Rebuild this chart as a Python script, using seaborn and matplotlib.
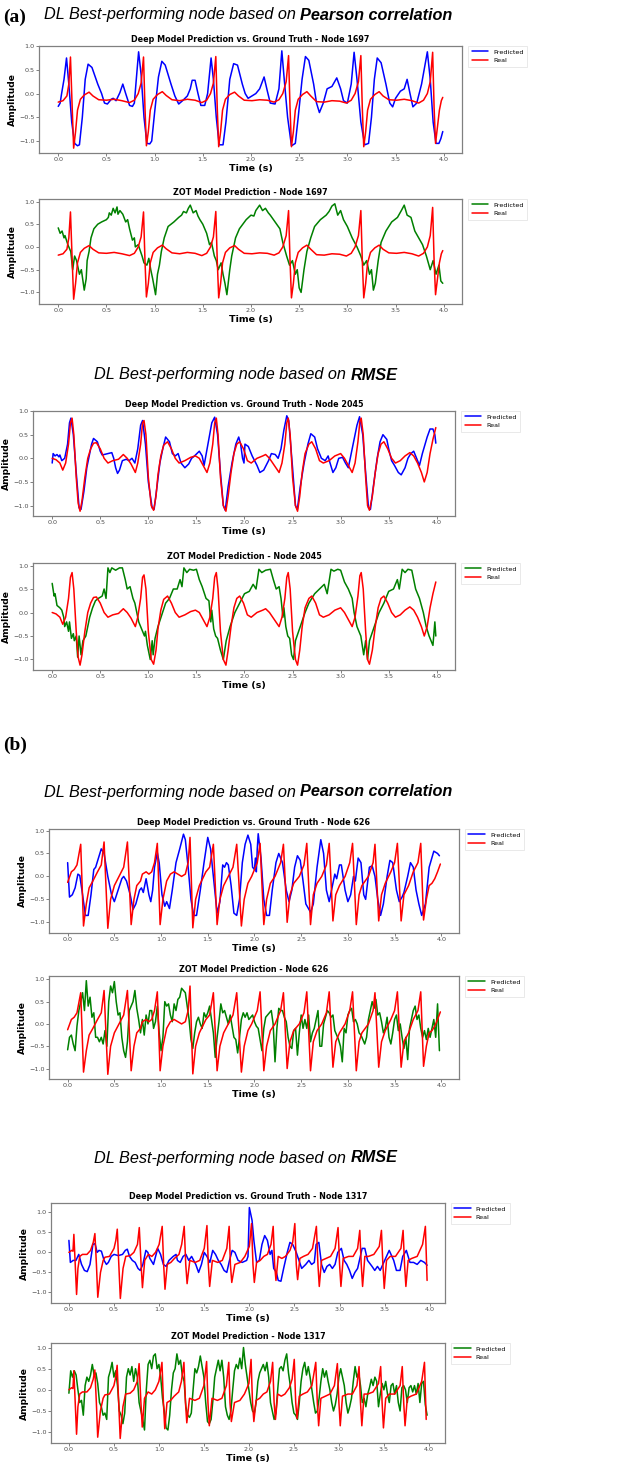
import matplotlib
matplotlib.use("Agg")
import matplotlib.pyplot as plt
import numpy as np
import seaborn as sns

# ---- data: (time [s], amplitude) samples ----
node1697_real = [(0.00, -0.18), (0.05, -0.15), (0.09, -0.05), (0.11, 0.2), (0.127, 0.77), (0.145, -0.3), (0.16, -1.15), (0.18, -0.8), (0.20, -0.35), (0.23, -0.12), (0.27, -0.03), (0.32, 0.03), (0.36, -0.05), (0.42, -0.13), (0.50, -0.14), (0.58, -0.12), (0.66, -0.15), (0.74, -0.19), (0.79, -0.14), (0.83, 0.0), (0.86, 0.22),
                 (0.885, 0.77), (0.90, -0.3), (0.915, -1.1), (0.935, -0.8), (0.955, -0.35), (0.985, -0.12), (1.03, -0.02), (1.08, 0.04), (1.12, -0.04), (1.18, -0.13), (1.26, -0.15), (1.34, -0.12), (1.42, -0.14), (1.49, -0.19), (1.54, -0.14), (1.58, 0.0), (1.61, 0.22),
                 (1.635, 0.78), (1.65, -0.3), (1.665, -1.12), (1.685, -0.8), (1.705, -0.35), (1.735, -0.12), (1.78, -0.02), (1.83, 0.03), (1.87, -0.05), (1.93, -0.14), (2.01, -0.15), (2.09, -0.13), (2.17, -0.14), (2.24, -0.18), (2.29, -0.13), (2.33, 0.0), (2.365, 0.25),
                 (2.39, 0.8), (2.405, -0.3), (2.42, -1.12), (2.44, -0.8), (2.46, -0.35), (2.49, -0.12), (2.535, -0.02), (2.58, 0.04), (2.62, -0.05), (2.68, -0.17), (2.76, -0.18), (2.84, -0.15), (2.92, -0.16), (2.99, -0.2), (3.04, -0.14), (3.08, 0.0), (3.115, 0.25),
                 (3.14, 0.8), (3.155, -0.3), (3.17, -1.12), (3.19, -0.8), (3.21, -0.35), (3.24, -0.12), (3.285, -0.02), (3.33, 0.04), (3.37, -0.05), (3.43, -0.13), (3.51, -0.14), (3.59, -0.12), (3.67, -0.15), (3.74, -0.2), (3.79, -0.14), (3.83, 0.0), (3.86, 0.25),
                 (3.885, 0.87), (3.90, -0.3), (3.915, -1.05), (3.935, -0.7), (3.955, -0.35), (3.975, -0.15), (3.99, -0.08)]

node1697_deep = [(0.00, -0.27), (0.02, -0.2), (0.035, 0.0), (0.06, 0.3), (0.086, 0.75), (0.11, 0.2), (0.14, -0.6), (0.17, -1.05), (0.20, -1.1), (0.22, -1.08), (0.25, -0.5), (0.28, 0.3), (0.31, 0.62), (0.35, 0.55), (0.41, 0.2), (0.45, 0.0), (0.48, -0.2), (0.51, -0.22), (0.55, -0.12), (0.57, -0.1), (0.60, -0.15), (0.64, 0.02), (0.67, 0.2), (0.70, 0.0), (0.74, -0.25), (0.77, -0.27), (0.79, -0.2), (0.81, 0.3), (0.834, 0.88), (0.86, 0.4), (0.89, -0.5), (0.92, -1.05), (0.95, -1.06), (0.97, -1.0), (1.00, -0.4), (1.04, 0.35), (1.075, 0.68), (1.11, 0.6), (1.17, 0.2), (1.21, -0.05), (1.25, -0.22), (1.29, -0.15), (1.34, -0.05), (1.37, 0.1), (1.39, 0.28), (1.42, 0.28), (1.45, 0.0), (1.48, -0.25), (1.52, -0.25), (1.55, 0.0), (1.586, 0.75), (1.61, 0.3), (1.64, -0.5), (1.67, -1.08), (1.71, -1.08), (1.74, -0.6), (1.78, 0.3), (1.82, 0.63), (1.86, 0.6), (1.91, 0.2), (1.94, 0.0), (1.97, -0.1), (2.01, -0.05), (2.05, 0.0), (2.09, 0.1), (2.136, 0.35), (2.17, 0.05), (2.20, -0.2), (2.25, -0.22), (2.29, 0.1), (2.32, 0.9), (2.345, 0.3), (2.38, -0.5), (2.42, -1.1), (2.46, -1.05), (2.49, -0.5), (2.53, 0.3), (2.565, 0.78), (2.60, 0.7), (2.65, 0.2), (2.68, -0.2), (2.71, -0.4), (2.75, -0.2), (2.79, 0.1), (2.84, 0.15), (2.89, 0.33), (2.93, 0.1), (2.96, -0.15), (3.00, -0.2), (3.04, 0.2), (3.07, 0.87), (3.10, 0.3), (3.14, -0.6), (3.18, -1.08), (3.22, -1.05), (3.25, -0.5), (3.28, 0.3), (3.31, 0.75), (3.35, 0.65), (3.40, 0.2), (3.44, -0.2), (3.47, -0.28), (3.50, -0.1), (3.55, 0.05), (3.59, 0.1), (3.62, 0.3), (3.65, 0.0), (3.68, -0.28), (3.72, -0.2), (3.77, 0.2), (3.83, 0.88), (3.86, 0.3), (3.89, -0.6), (3.92, -1.05), (3.95, -1.05), (3.97, -0.95), (3.99, -0.8)]

node1697_zot = [(0.00, 0.42), (0.02, 0.3), (0.04, 0.35), (0.06, 0.2), (0.07, 0.25), (0.10, 0.05), (0.13, -0.1), (0.15, -0.5), (0.17, -0.2), (0.19, -0.3), (0.22, -0.6), (0.24, -0.5), (0.26, -0.8), (0.27, -0.95), (0.29, -0.7), (0.30, -0.3), (0.32, -0.1), (0.34, 0.2), (0.37, 0.4), (0.41, 0.5), (0.45, 0.55), (0.50, 0.6), (0.52, 0.65), (0.53, 0.75), (0.55, 0.7), (0.57, 0.85), (0.59, 0.75), (0.61, 0.88), (0.62, 0.72), (0.64, 0.8), (0.67, 0.72), (0.70, 0.55), (0.72, 0.6), (0.74, 0.4), (0.77, 0.15), (0.79, 0.2), (0.80, 0.0), (0.83, 0.05), (0.87, -0.2), (0.89, -0.35), (0.92, -0.4), (0.94, -0.25), (0.96, -0.5), (0.98, -0.7), (1.01, -1.05), (1.03, -0.6), (1.05, -0.4), (1.07, -0.1), (1.10, 0.2), (1.14, 0.45), (1.20, 0.55), (1.25, 0.65), (1.28, 0.7), (1.30, 0.78), (1.33, 0.75), (1.35, 0.85), (1.37, 0.92), (1.40, 0.75), (1.43, 0.8), (1.45, 0.68), (1.47, 0.6), (1.50, 0.5), (1.54, 0.3), (1.57, 0.05), (1.59, 0.1), (1.62, -0.2), (1.64, -0.3), (1.66, -0.5), (1.69, -0.35), (1.71, -0.6), (1.73, -0.8), (1.75, -1.05), (1.78, -0.5), (1.80, -0.2), (1.84, 0.2), (1.88, 0.4), (1.95, 0.6), (2.00, 0.7), (2.03, 0.68), (2.05, 0.8), (2.09, 0.92), (2.12, 0.8), (2.15, 0.85), (2.18, 0.75), (2.20, 0.7), (2.25, 0.55), (2.30, 0.4), (2.33, 0.1), (2.37, -0.2), (2.40, -0.4), (2.43, -0.3), (2.46, -0.6), (2.48, -0.5), (2.50, -0.9), (2.52, -1.0), (2.55, -0.5), (2.58, -0.1), (2.62, 0.2), (2.66, 0.45), (2.72, 0.6), (2.78, 0.7), (2.81, 0.78), (2.84, 0.9), (2.87, 0.95), (2.90, 0.7), (2.93, 0.8), (2.96, 0.6), (3.00, 0.45), (3.05, 0.2), (3.10, 0.0), (3.14, -0.2), (3.17, -0.4), (3.20, -0.3), (3.23, -0.6), (3.25, -0.5), (3.27, -0.95), (3.29, -0.8), (3.32, -0.3), (3.35, 0.1), (3.40, 0.35), (3.46, 0.55), (3.52, 0.65), (3.56, 0.8), (3.59, 0.92), (3.62, 0.7), (3.66, 0.65), (3.70, 0.35), (3.74, 0.2), (3.78, 0.05), (3.82, -0.2), (3.86, -0.5), (3.89, -0.3), (3.92, -0.6), (3.95, -0.4), (3.97, -0.75), (3.99, -0.8)]

node2045_real = [(0.00, 0.0), (0.04, -0.03), (0.08, -0.1), (0.11, -0.25), (0.14, -0.1), (0.17, 0.3), (0.19, 0.75), (0.207, 0.85), (0.225, 0.5), (0.25, -0.4), (0.27, -0.95), (0.29, -1.12), (0.31, -0.9), (0.34, -0.4), (0.37, 0.0), (0.40, 0.2), (0.43, 0.32), (0.46, 0.33), (0.50, 0.2), (0.54, 0.0), (0.58, -0.1), (0.63, -0.05), (0.69, -0.02), (0.74, 0.08), (0.78, 0.0), (0.82, -0.12), (0.865, -0.3), (0.89, -0.1), (0.92, 0.3), (0.94, 0.75), (0.955, 0.8), (0.975, 0.5), (1.00, -0.4), (1.03, -1.0), (1.055, -1.1), (1.08, -0.8), (1.10, -0.35), (1.13, 0.05), (1.16, 0.28), (1.20, 0.35), (1.24, 0.2), (1.28, 0.0), (1.32, -0.1), (1.38, -0.05), (1.44, 0.02), (1.49, 0.05), (1.53, 0.0), (1.57, -0.15), (1.61, -0.3), (1.64, -0.1), (1.67, 0.3), (1.69, 0.75), (1.707, 0.85), (1.725, 0.5), (1.75, -0.4), (1.78, -1.0), (1.807, -1.12), (1.83, -0.8), (1.86, -0.3), (1.89, 0.1), (1.92, 0.3), (1.95, 0.35), (1.99, 0.2), (2.03, -0.05), (2.07, -0.1), (2.13, 0.0), (2.19, 0.05), (2.22, 0.08), (2.26, 0.0), (2.30, -0.12), (2.36, -0.3), (2.39, -0.1), (2.42, 0.3), (2.44, 0.75), (2.455, 0.85), (2.475, 0.5), (2.50, -0.4), (2.53, -1.0), (2.552, -1.12), (2.575, -0.8), (2.60, -0.3), (2.63, 0.1), (2.67, 0.3), (2.70, 0.35), (2.74, 0.2), (2.78, -0.05), (2.82, -0.1), (2.88, -0.05), (2.94, 0.05), (3.00, 0.1), (3.04, 0.0), (3.08, -0.15), (3.12, -0.3), (3.15, -0.1), (3.18, 0.35), (3.20, 0.78), (3.214, 0.85), (3.235, 0.5), (3.26, -0.4), (3.28, -1.0), (3.30, -1.1), (3.33, -0.8), (3.36, -0.3), (3.39, 0.1), (3.42, 0.3), (3.45, 0.35), (3.49, 0.2), (3.53, 0.0), (3.57, -0.1), (3.62, -0.05), (3.67, 0.05), (3.72, 0.12), (3.76, 0.05), (3.80, -0.1), (3.84, -0.3), (3.87, -0.5), (3.90, -0.3), (3.93, 0.1), (3.96, 0.4), (3.99, 0.65)]

node2045_deep = [(0.00, -0.1), (0.01, 0.1), (0.03, 0.05), (0.05, 0.08), (0.07, 0.03), (0.08, 0.07), (0.10, -0.05), (0.13, 0.0), (0.16, 0.3), (0.18, 0.75), (0.195, 0.85), (0.22, 0.5), (0.25, -0.3), (0.28, -1.05), (0.30, -1.08), (0.33, -0.7), (0.36, -0.2), (0.39, 0.1), (0.41, 0.3), (0.43, 0.42), (0.47, 0.35), (0.50, 0.15), (0.52, 0.07), (0.58, 0.1), (0.62, 0.12), (0.64, 0.0), (0.66, -0.2), (0.68, -0.32), (0.70, -0.25), (0.73, -0.05), (0.77, -0.02), (0.80, -0.05), (0.83, 0.0), (0.86, -0.1), (0.89, 0.2), (0.92, 0.7), (0.94, 0.8), (0.97, 0.3), (1.00, -0.5), (1.04, -1.05), (1.06, -1.08), (1.09, -0.6), (1.12, -0.1), (1.15, 0.2), (1.18, 0.45), (1.22, 0.35), (1.25, 0.1), (1.28, 0.05), (1.31, 0.1), (1.34, -0.1), (1.38, -0.2), (1.42, -0.12), (1.45, 0.0), (1.48, 0.05), (1.53, 0.15), (1.56, 0.05), (1.58, -0.15), (1.62, 0.3), (1.66, 0.75), (1.69, 0.87), (1.72, 0.5), (1.75, -0.3), (1.78, -1.0), (1.80, -1.1), (1.83, -0.6), (1.87, -0.1), (1.91, 0.3), (1.94, 0.45), (1.96, 0.3), (1.98, 0.0), (1.995, -0.1), (2.005, 0.3), (2.04, 0.25), (2.08, 0.05), (2.13, -0.15), (2.16, -0.3), (2.20, -0.25), (2.25, -0.05), (2.28, 0.1), (2.32, 0.08), (2.35, 0.0), (2.38, 0.2), (2.41, 0.6), (2.44, 0.9), (2.46, 0.8), (2.50, -0.2), (2.53, -1.0), (2.55, -1.08), (2.58, -0.6), (2.62, -0.1), (2.66, 0.3), (2.69, 0.52), (2.73, 0.45), (2.76, 0.2), (2.80, 0.0), (2.84, -0.05), (2.87, 0.05), (2.89, -0.1), (2.92, -0.3), (2.95, -0.2), (2.98, 0.0), (3.02, 0.02), (3.05, -0.1), (3.08, -0.2), (3.13, 0.3), (3.17, 0.7), (3.197, 0.88), (3.23, 0.5), (3.26, -0.3), (3.29, -1.05), (3.31, -1.08), (3.34, -0.6), (3.38, 0.0), (3.41, 0.35), (3.44, 0.5), (3.48, 0.4), (3.50, 0.2), (3.53, -0.05), (3.56, -0.15), (3.60, -0.3), (3.63, -0.35), (3.67, -0.2), (3.70, 0.0), (3.73, 0.1), (3.76, 0.15), (3.79, 0.0), (3.82, -0.15), (3.85, 0.1), (3.90, 0.45), (3.93, 0.62), (3.96, 0.62), (3.98, 0.5), (3.99, 0.32)]

node2045_zot = [(0.00, 0.62), (0.02, 0.35), (0.03, 0.4), (0.05, 0.15), (0.08, 0.1), (0.10, 0.05), (0.12, -0.1), (0.13, -0.3), (0.15, -0.2), (0.17, -0.4), (0.18, -0.2), (0.20, -0.55), (0.22, -0.45), (0.23, -0.6), (0.25, -0.5), (0.265, -0.95), (0.28, -0.5), (0.30, -0.9), (0.32, -0.6), (0.35, -0.5), (0.37, -0.3), (0.39, -0.1), (0.42, 0.1), (0.45, 0.25), (0.48, 0.3), (0.52, 0.35), (0.54, 0.5), (0.56, 0.3), (0.58, 0.95), (0.60, 0.85), (0.62, 0.95), (0.66, 0.9), (0.70, 0.95), (0.73, 0.95), (0.76, 0.7), (0.78, 0.5), (0.81, 0.55), (0.84, 0.3), (0.86, 0.2), (0.88, 0.0), (0.90, -0.2), (0.93, -0.35), (0.96, -0.5), (0.97, -0.4), (0.99, -0.7), (1.02, -1.0), (1.04, -0.6), (1.05, -0.9), (1.07, -0.55), (1.10, -0.3), (1.14, -0.05), (1.18, 0.2), (1.22, 0.3), (1.26, 0.5), (1.30, 0.5), (1.33, 0.7), (1.35, 0.55), (1.37, 0.95), (1.40, 0.85), (1.43, 0.92), (1.47, 0.9), (1.50, 0.92), (1.53, 0.7), (1.56, 0.55), (1.60, 0.3), (1.63, 0.25), (1.65, -0.2), (1.66, 0.05), (1.68, -0.35), (1.70, -0.5), (1.72, -0.55), (1.75, -0.8), (1.78, -1.0), (1.81, -0.6), (1.85, -0.3), (1.90, 0.0), (1.95, 0.2), (2.00, 0.4), (2.05, 0.45), (2.09, 0.6), (2.12, 0.5), (2.15, 0.92), (2.18, 0.85), (2.22, 0.9), (2.27, 0.92), (2.30, 0.7), (2.33, 0.5), (2.36, 0.55), (2.38, 0.3), (2.40, -0.1), (2.41, 0.1), (2.43, -0.3), (2.45, -0.5), (2.47, -0.55), (2.49, -0.9), (2.51, -1.0), (2.53, -0.6), (2.58, -0.3), (2.63, 0.0), (2.67, 0.2), (2.73, 0.4), (2.78, 0.5), (2.83, 0.6), (2.86, 0.4), (2.90, 0.92), (2.93, 0.88), (2.97, 0.92), (3.00, 0.9), (3.04, 0.65), (3.08, 0.5), (3.12, 0.3), (3.14, 0.0), (3.17, -0.3), (3.19, -0.4), (3.21, -0.5), (3.24, -0.9), (3.26, -0.6), (3.28, -1.0), (3.30, -0.6), (3.35, -0.3), (3.40, 0.0), (3.45, 0.2), (3.50, 0.45), (3.55, 0.5), (3.59, 0.7), (3.61, 0.5), (3.64, 0.92), (3.67, 0.85), (3.70, 0.92), (3.74, 0.9), (3.78, 0.5), (3.82, 0.3), (3.86, 0.0), (3.89, -0.3), (3.92, -0.5), (3.94, -0.6), (3.96, -0.7), (3.98, -0.2), (3.99, -0.5)]

node626_real = [(0.00, -0.13), (0.04, 0.1), (0.07, 0.15), (0.10, 0.25), (0.14, 0.7), (0.17, -1.08), (0.20, -0.6), (0.23, -0.25), (0.27, -0.1), (0.32, 0.1), (0.36, 0.25), (0.39, 0.75), (0.43, -1.13), (0.46, -0.5), (0.50, -0.2), (0.55, 0.0), (0.60, 0.2), (0.64, 0.75), (0.68, -1.05), (0.71, -0.5), (0.74, -0.2), (0.78, -0.1), (0.80, 0.05), (0.84, 0.1), (0.87, 0.05), (0.90, 0.1), (0.93, 0.3), (0.96, 0.72), (0.99, -1.05), (1.02, -0.5), (1.06, -0.1), (1.10, 0.05), (1.14, 0.1), (1.18, 0.05), (1.22, 0.0), (1.26, 0.05), (1.29, 0.3), (1.31, 0.85), (1.34, -1.12), (1.37, -0.5), (1.41, -0.2), (1.48, 0.1), (1.52, 0.2), (1.56, 0.7), (1.60, -1.05), (1.63, -0.5), (1.67, -0.2), (1.72, 0.0), (1.77, 0.2), (1.81, 0.7), (1.86, -1.08), (1.89, -0.5), (1.93, -0.15), (1.97, 0.0), (2.03, 0.3), (2.06, 0.72), (2.10, -1.05), (2.13, -0.5), (2.17, -0.15), (2.22, 0.0), (2.28, 0.3), (2.31, 0.7), (2.35, -1.0), (2.38, -0.4), (2.42, -0.15), (2.48, 0.0), (2.53, 0.25), (2.56, 0.72), (2.60, -1.05), (2.63, -0.4), (2.67, -0.15), (2.72, 0.0), (2.77, 0.25), (2.80, 0.72), (2.84, -0.97), (2.87, -0.4), (2.91, -0.2), (2.97, 0.0), (3.02, 0.3), (3.05, 0.72), (3.09, -1.05), (3.12, -0.4), (3.15, -0.2), (3.22, 0.0), (3.27, 0.3), (3.29, 0.7), (3.33, -0.97), (3.36, -0.4), (3.40, -0.15), (3.46, 0.1), (3.50, 0.3), (3.53, 0.72), (3.57, -0.97), (3.60, -0.4), (3.65, -0.2), (3.70, 0.1), (3.75, 0.3), (3.78, 0.72), (3.81, -0.95), (3.84, -0.5), (3.87, -0.2), (3.90, -0.15), (3.93, -0.05), (3.96, 0.1), (3.99, 0.27)]

node626_deep = [(0.00, 0.3), (0.02, -0.45), (0.05, -0.4), (0.08, -0.25), (0.11, 0.05), (0.13, 0.02), (0.16, -0.4), (0.19, -0.85), (0.22, -0.85), (0.25, -0.4), (0.28, 0.15), (0.30, 0.2), (0.33, 0.4), (0.36, 0.6), (0.39, 0.5), (0.43, 0.0), (0.47, -0.4), (0.50, -0.55), (0.54, -0.3), (0.58, -0.05), (0.60, 0.0), (0.63, -0.1), (0.67, -0.4), (0.70, -0.72), (0.73, -0.6), (0.77, -0.3), (0.79, -0.25), (0.81, -0.35), (0.84, -0.05), (0.87, -0.4), (0.89, -0.55), (0.91, -0.3), (0.93, 0.2), (0.96, 0.52), (0.98, 0.3), (1.01, -0.4), (1.04, -0.65), (1.06, -0.55), (1.09, -0.7), (1.12, -0.3), (1.16, 0.3), (1.20, 0.6), (1.24, 0.92), (1.26, 0.8), (1.29, 0.2), (1.32, -0.5), (1.35, -0.85), (1.38, -0.85), (1.42, -0.3), (1.46, 0.3), (1.50, 0.85), (1.53, 0.6), (1.57, -0.2), (1.60, -0.8), (1.63, -0.55), (1.66, 0.25), (1.68, 0.2), (1.70, 0.3), (1.72, 0.25), (1.75, -0.2), (1.78, -0.8), (1.81, -0.85), (1.84, -0.5), (1.87, 0.3), (1.90, 0.7), (1.93, 0.9), (1.96, 0.7), (1.98, 0.2), (2.00, 0.15), (2.01, 0.4), (2.02, 0.1), (2.03, 0.6), (2.04, 0.93), (2.07, 0.4), (2.10, -0.5), (2.13, -0.85), (2.16, -0.85), (2.19, -0.3), (2.23, 0.3), (2.26, 0.5), (2.30, 0.3), (2.34, -0.3), (2.37, -0.55), (2.40, -0.3), (2.43, 0.2), (2.46, 0.45), (2.49, 0.35), (2.52, -0.1), (2.55, -0.6), (2.60, -0.78), (2.63, -0.6), (2.67, 0.2), (2.71, 0.8), (2.74, 0.5), (2.77, -0.3), (2.80, -0.55), (2.83, -0.25), (2.86, 0.05), (2.88, -0.05), (2.91, 0.25), (2.93, 0.25), (2.97, -0.3), (3.00, -0.55), (3.03, -0.4), (3.06, 0.0), (3.08, -0.1), (3.11, 0.4), (3.14, 0.3), (3.17, -0.4), (3.19, -0.5), (3.23, 0.2), (3.26, 0.23), (3.29, 0.0), (3.32, -0.5), (3.35, -0.85), (3.38, -0.6), (3.42, 0.0), (3.45, 0.35), (3.48, 0.3), (3.52, -0.3), (3.55, -0.55), (3.58, -0.45), (3.60, -0.35), (3.64, 0.0), (3.67, 0.3), (3.70, 0.2), (3.73, -0.3), (3.76, -0.6), (3.79, -0.85), (3.83, -0.6), (3.87, 0.2), (3.92, 0.55), (3.96, 0.5), (3.98, 0.45)]

# ZOT prediction for node 626, one value every 0.02 s
node626_zot = [-0.58, -0.3, -0.25, -0.45, -0.6, -0.05, 0.3, 0.5, 0.7, 0.3,
               0.97, 0.4, 0.6, 0.15, 0.25, -0.3, -0.3, -0.4, -0.3, -0.45,
               -0.15, -0.5, 0.5, 0.85, 0.7, 0.95, 0.5, 0.2, 0.25, -0.3,
               -0.6, -0.75, -0.4, 0.3, 0.4, 0.5, 0.75, 0.35, 0.1, -0.2,
               0.1, -0.25, 0.2, 0.0, 0.3, 0.3, -0.1, 0.05, 0.4, -0.2,
               -0.6, -0.3, 0.5, 0.4, 0.45, 0.2, 0.05, 0.45, 0.3, 0.55,
               0.6, 0.8, 0.75, 0.7, 0.4, 0.1, -0.35, -0.55, -0.2, 0.05,
               0.15, 0.0, -0.1, 0.25, 0.15, 0.25, 0.4, 0.1, -0.2, -0.75,
               -0.3, 0.05, 0.45, 0.25, 0.3, 0.15, 0.0, 0.2, -0.05, -0.3,
               -0.35, -0.65, -0.3, 0.1, 0.25, 0.15, 0.25, 0.1, 0.15, 0.2,
               0.05, -0.05, -0.1, -0.35, -0.6, -0.1, 0.15, 0.2, 0.25, 0.3,
               0.0, -0.85, -0.1, 0.35, 0.3, 0.3, 0.15, 0.05, -0.3, -0.5,
               -0.55, -0.15, -0.1, -0.7, -0.2, 0.2, -0.1, 0.1, -0.1, 0.2,
               -0.4, -0.2, -0.1, 0.1, 0.3, -0.5, -0.5, 0.0, 0.15, 0.3,
               0.25, 0.15, 0.2, -0.15, -0.25, -0.35, -0.5, -0.85, -0.1, -0.2,
               0.2, 0.3, 0.35, 0.05, 0.1, 0.0, -0.2, -0.25, -0.35, -0.45,
               -0.3, 0.1, 0.3, 0.5, 0.35, 0.55, 0.2, 0.25, 0.05, -0.2,
               -0.1, 0.15, -0.3, -0.45, -0.2, 0.1, 0.2, -0.15, 0.0, -0.3,
               -0.55, -0.3, -0.8, -0.1, 0.1, 0.3, 0.4, 0.1, 0.2, -0.1,
               -0.3, -0.15, -0.35, -0.1, -0.3, -0.1, 0.1, -0.3, 0.45, -0.6]

node1317_real = [(0.00, 0.0), (0.03, 0.05), (0.045, 0.03), (0.055, 0.45), (0.07, -0.3), (0.085, -1.05), (0.10, -0.4), (0.12, -0.1), (0.15, -0.05), (0.20, -0.05), (0.24, 0.05), (0.27, 0.25), (0.288, 0.47), (0.305, -0.3), (0.32, -1.12), (0.35, -0.5), (0.38, -0.2), (0.40, -0.12), (0.45, -0.1), (0.50, 0.1), (0.52, 0.3), (0.536, 0.58), (0.555, -0.4), (0.57, -1.15), (0.60, -0.4), (0.63, -0.1), (0.68, -0.08), (0.72, 0.0), (0.76, 0.2), (0.78, 0.62), (0.80, -0.3), (0.815, -0.88), (0.84, -0.2), (0.88, -0.05), (0.92, -0.1), (0.96, 0.0), (1.00, 0.2), (1.034, 0.65), (1.05, -0.3), (1.065, -0.92), (1.09, -0.3), (1.13, -0.25), (1.17, -0.15), (1.22, -0.05), (1.25, 0.2), (1.278, 0.65), (1.295, -0.3), (1.31, -0.78), (1.34, -0.2), (1.40, -0.25), (1.45, -0.2), (1.50, 0.1), (1.53, 0.67), (1.545, -0.3), (1.56, -0.85), (1.59, -0.2), (1.65, -0.25), (1.70, -0.2), (1.75, 0.1), (1.776, 0.65), (1.79, -0.3), (1.805, -0.75), (1.84, -0.3), (1.90, -0.25), (1.95, -0.1), (2.00, 0.15), (2.024, 0.72), (2.04, -0.3), (2.055, -0.75), (2.08, -0.25), (2.12, -0.2), (2.16, -0.1), (2.20, -0.05), (2.24, 0.2), (2.264, 0.65), (2.28, -0.3), (2.295, -0.7), (2.32, -0.1), (2.36, -0.15), (2.40, -0.1), (2.45, 0.05), (2.48, 0.25), (2.504, 0.72), (2.52, -0.3), (2.535, -0.68), (2.56, -0.15), (2.60, -0.1), (2.65, -0.05), (2.70, 0.1), (2.743, 0.65), (2.76, -0.3), (2.775, -0.85), (2.80, -0.2), (2.85, -0.15), (2.90, -0.1), (2.95, 0.1), (2.983, 0.62), (3.00, -0.3), (3.015, -0.85), (3.04, -0.15), (3.10, -0.1), (3.15, -0.1), (3.20, 0.1), (3.224, 0.55), (3.24, -0.3), (3.255, -0.85), (3.28, -0.1), (3.32, -0.1), (3.38, -0.05), (3.44, 0.15), (3.464, 0.55), (3.48, -0.3), (3.495, -0.9), (3.52, -0.2), (3.56, -0.1), (3.62, -0.1), (3.68, 0.1), (3.704, 0.55), (3.72, -0.3), (3.735, -0.85), (3.76, -0.2), (3.80, -0.15), (3.86, -0.1), (3.92, 0.2), (3.951, 0.65), (3.97, -0.7)]

node1317_deep = [(0.00, 0.3), (0.016, -0.25), (0.047, -0.2), (0.078, -0.2), (0.109, -0.05), (0.14, -0.3), (0.172, -0.45), (0.203, -0.48), (0.234, -0.3), (0.266, 0.2), (0.29, 0.22), (0.3125, 0.0), (0.334, 0.05), (0.36, 0.03), (0.39, -0.2), (0.416, -0.3), (0.4375, -0.25), (0.469, -0.1), (0.50, -0.05), (0.547, -0.08), (0.594, -0.05), (0.625, 0.05), (0.647, 0.08), (0.672, -0.1), (0.703, -0.2), (0.734, -0.25), (0.766, -0.4), (0.79, -0.45), (0.82, -0.3), (0.853, 0.05), (0.875, 0.0), (0.897, -0.15), (0.9375, -0.3), (0.984, 0.1), (1.016, -0.05), (1.047, -0.3), (1.078, -0.35), (1.109, -0.2), (1.156, -0.1), (1.1875, -0.05), (1.203, -0.2), (1.234, -0.25), (1.266, -0.1), (1.297, -0.05), (1.328, -0.2), (1.36, -0.1), (1.406, -0.3), (1.4375, -0.5), (1.469, -0.3), (1.50, 0.0), (1.53, -0.1), (1.5625, -0.25), (1.594, 0.05), (1.625, -0.05), (1.656, -0.2), (1.6875, -0.3), (1.72, -0.45), (1.75, -0.5), (1.78, -0.2), (1.81, 0.05), (1.84, 0.0), (1.875, -0.2), (1.92, -0.25), (1.97, -0.2), (1.985, -0.1), (2.00, 1.12), (2.03, 0.8), (2.05, 0.3), (2.08, -0.25), (2.11, -0.2), (2.14, 0.2), (2.17, 0.42), (2.20, 0.3), (2.23, -0.05), (2.25, 0.05), (2.27, -0.4), (2.30, -0.5), (2.32, -0.7), (2.35, -0.72), (2.38, -0.4), (2.42, 0.0), (2.45, 0.25), (2.48, 0.2), (2.52, 0.0), (2.55, -0.2), (2.58, -0.4), (2.625, -0.3), (2.66, -0.2), (2.69, -0.3), (2.72, -0.25), (2.74, 0.2), (2.77, 0.25), (2.80, -0.3), (2.83, -0.5), (2.86, -0.35), (2.89, -0.3), (2.92, -0.4), (2.95, -0.3), (2.98, 0.0), (3.02, 0.1), (3.05, -0.2), (3.08, -0.3), (3.11, -0.45), (3.14, -0.65), (3.17, -0.5), (3.20, -0.4), (3.25, 0.1), (3.28, 0.1), (3.31, -0.2), (3.36, -0.35), (3.39, -0.45), (3.42, -0.35), (3.45, -0.45), (3.50, -0.2), (3.55, 0.05), (3.60, -0.2), (3.63, -0.45), (3.67, -0.45), (3.70, -0.1), (3.74, 0.05), (3.78, -0.25), (3.82, -0.25), (3.86, -0.3), (3.90, -0.2), (3.94, -0.25), (3.97, -0.32)]

# ZOT prediction for node 1317, one value every 0.02 s
node1317_zot = [-0.08, 0.45, 0.3, 0.45, 0.35, 0.0, -0.3, -0.25, -0.6, 0.1,
                0.3, 0.2, 0.35, 0.6, 0.35, 0.4, 0.15, -0.3, -0.4, -0.6,
                -0.55, -0.7, 0.3, 0.45, 0.65, 0.3, 0.45, 0.1, -0.5, -0.6,
                -0.8, -0.55, 0.3, 0.5, 0.35, 0.55, 0.2, 0.5, 0.3, -0.3,
                -0.5, -0.7, -0.95, 0.0, 0.6, 0.7, 0.5, 0.8, 0.85, 0.5,
                0.6, 0.3, -0.2, -0.5, -0.9, -0.95, -0.6, 0.0, 0.4, 0.5,
                0.85, 0.6, 0.7, 0.35, 0.2, -0.4, -0.6, -0.65, -0.55, 0.0,
                0.5, 0.4, 0.55, 0.8, 0.55, 0.3, -0.3, -0.75, -0.8, -0.7,
                -0.25, 0.3, 0.5, 0.7, 0.45, 0.7, 0.3, -0.4, -0.6, -0.7,
                -0.5, 0.0, 0.45, 0.6, 0.5, 0.75, 0.5, 1.0, 0.6, 0.3,
                0.0, -0.3, -0.5, -0.55, -0.3, 0.2, 0.4, 0.5, 0.6, 0.45,
                0.65, 0.3, -0.3, -0.5, -0.7, -0.55, 0.0, 0.5, 0.55, 0.45,
                0.7, 0.85, 0.4, 0.1, -0.3, -0.55, -0.6, -0.7, -0.3, 0.2,
                0.5, 0.65, 0.35, 0.55, 0.3, 0.0, -0.3, -0.55, -0.5, -0.2,
                0.2, 0.5, 0.3, 0.45, 0.2, 0.0, -0.3, -0.5, -0.35, -0.1,
                0.3, 0.5, 0.3, 0.1, -0.3, -0.55, -0.4, -0.2, 0.2, 0.55,
                0.3, 0.4, 0.1, -0.3, -0.2, -0.4, -0.1, 0.05, 0.25, 0.1,
                0.3, 0.2, -0.4, -0.1, 0.15, 0.0, 0.2, -0.1, -0.3, 0.1,
                0.15, -0.1, 0.1, -0.3, -0.5, 0.05, 0.1, 0.0, -0.3, 0.05,
                0.1, -0.05, 0.1, -0.1, 0.15, -0.3, 0.15, 0.2, -0.35, -0.6]
grid_t = [round(0.02 * k, 2) for k in range(200)]

W, H = 620, 1470
sns.set_style("ticks")
plt.rcParams['font.family'] = ['DejaVu Sans']
plt.rcParams['text.color'] = 'black'
plt.rcParams['axes.labelcolor'] = 'black'

fig = plt.figure(figsize=(W / 100, H / 100), dpi=100)


def add_ax(l, t, r, b):
    return fig.add_axes([l / W, 1 - b / H, (r - l) / W, (b - t) / H])


def draw(ax, pred, real, pred_color, title):
    if isinstance(pred[0], tuple):
        pt, pv = zip(*pred)
    else:
        pt, pv = grid_t, pred
    rt, rv = zip(*real)
    sns.lineplot(x=list(pt), y=list(pv), ax=ax, color=pred_color, lw=1.1, label='Predicted', sort=False)
    sns.lineplot(x=list(rt), y=list(rv), ax=ax, color='red', lw=1.1, label='Real', sort=False)
    ax.set_title(title, fontsize=5.8, fontweight='bold', pad=3)
    ax.set_xlabel('Time (s)', fontsize=6.8, fontweight='bold', labelpad=1)
    ax.set_ylabel('Amplitude', fontsize=6.6, fontweight='bold', labelpad=1.5)
    ax.set_xticks([0, 0.5, 1, 1.5, 2, 2.5, 3, 3.5, 4])
    ax.tick_params(labelsize=4.6, length=2, width=0.5, pad=1.2, colors='0.3')
    for s in ax.spines.values():
        s.set_visible(True)
        s.set_color('0.5')
        s.set_linewidth(0.9)
    leg = ax.legend(loc='upper left', bbox_to_anchor=(1.015, 1.0), borderaxespad=0,
                    fontsize=4.6, handlelength=2.6, frameon=True, fancybox=False,
                    borderpad=0.5, labelspacing=0.5)
    leg.get_frame().set_edgecolor('0.85')
    leg.get_frame().set_linewidth(0.5)


axes_px = [(39, 46, 462, 153), (39, 199, 462, 304), (33, 411, 455, 516), (33, 563, 455, 670),
           (49, 829, 459, 933), (49, 976, 459, 1079), (51, 1203, 445, 1303), (51, 1343, 445, 1443)]
axs = [add_ax(*p) for p in axes_px]

draw(axs[0], node1697_deep, node1697_real, 'blue', 'Deep Model Prediction vs. Ground Truth - Node 1697')
draw(axs[1], node1697_zot, node1697_real, 'green', 'ZOT Model Prediction - Node 1697')
draw(axs[2], node2045_deep, node2045_real, 'blue', 'Deep Model Prediction vs. Ground Truth - Node 2045')
draw(axs[3], node2045_zot, node2045_real, 'green', 'ZOT Model Prediction - Node 2045')
draw(axs[4], node626_deep, node626_real, 'blue', 'Deep Model Prediction vs. Ground Truth - Node 626')
draw(axs[5], node626_zot, node626_real, 'green', 'ZOT Model Prediction - Node 626')
draw(axs[6], node1317_deep, node1317_real, 'blue', 'Deep Model Prediction vs. Ground Truth - Node 1317')
draw(axs[7], node1317_zot, node1317_real, 'green', 'ZOT Model Prediction - Node 1317')

# section headers
renderer = fig.canvas.get_renderer()


def header(xc, yc, plain, bold, size=11.7):
    t1 = fig.text(0, 0, plain, fontsize=size, style='italic', family='Liberation Sans', va='center', color='black')
    t2 = fig.text(0, 0, bold, fontsize=size, style='italic', fontweight='bold', family='Liberation Sans', va='center', color='black')
    w1 = t1.get_window_extent(renderer).width
    w2 = t2.get_window_extent(renderer).width
    gap = size * 100 / 72 * 0.28
    x0 = xc - (w1 + gap + w2) / 2
    t1.set_position((x0 / W, 1 - yc / H))
    t2.set_position(((x0 + w1 + gap) / W, 1 - yc / H))


header(248, 15, 'DL Best-performing node based on', 'Pearson correlation')
header(246, 375, 'DL Best-performing node based on', 'RMSE')
header(248, 792, 'DL Best-performing node based on', 'Pearson correlation')
header(246, 1158, 'DL Best-performing node based on', 'RMSE')

fig.text(3 / W, 1 - 17 / H, '(a)', fontsize=14, fontweight='bold', family='Liberation Serif', va='center', color='black')
fig.text(3 / W, 1 - 745 / H, '(b)', fontsize=14, fontweight='bold', family='Liberation Serif', va='center', color='black')

fig.savefig('out.png', dpi=100)
